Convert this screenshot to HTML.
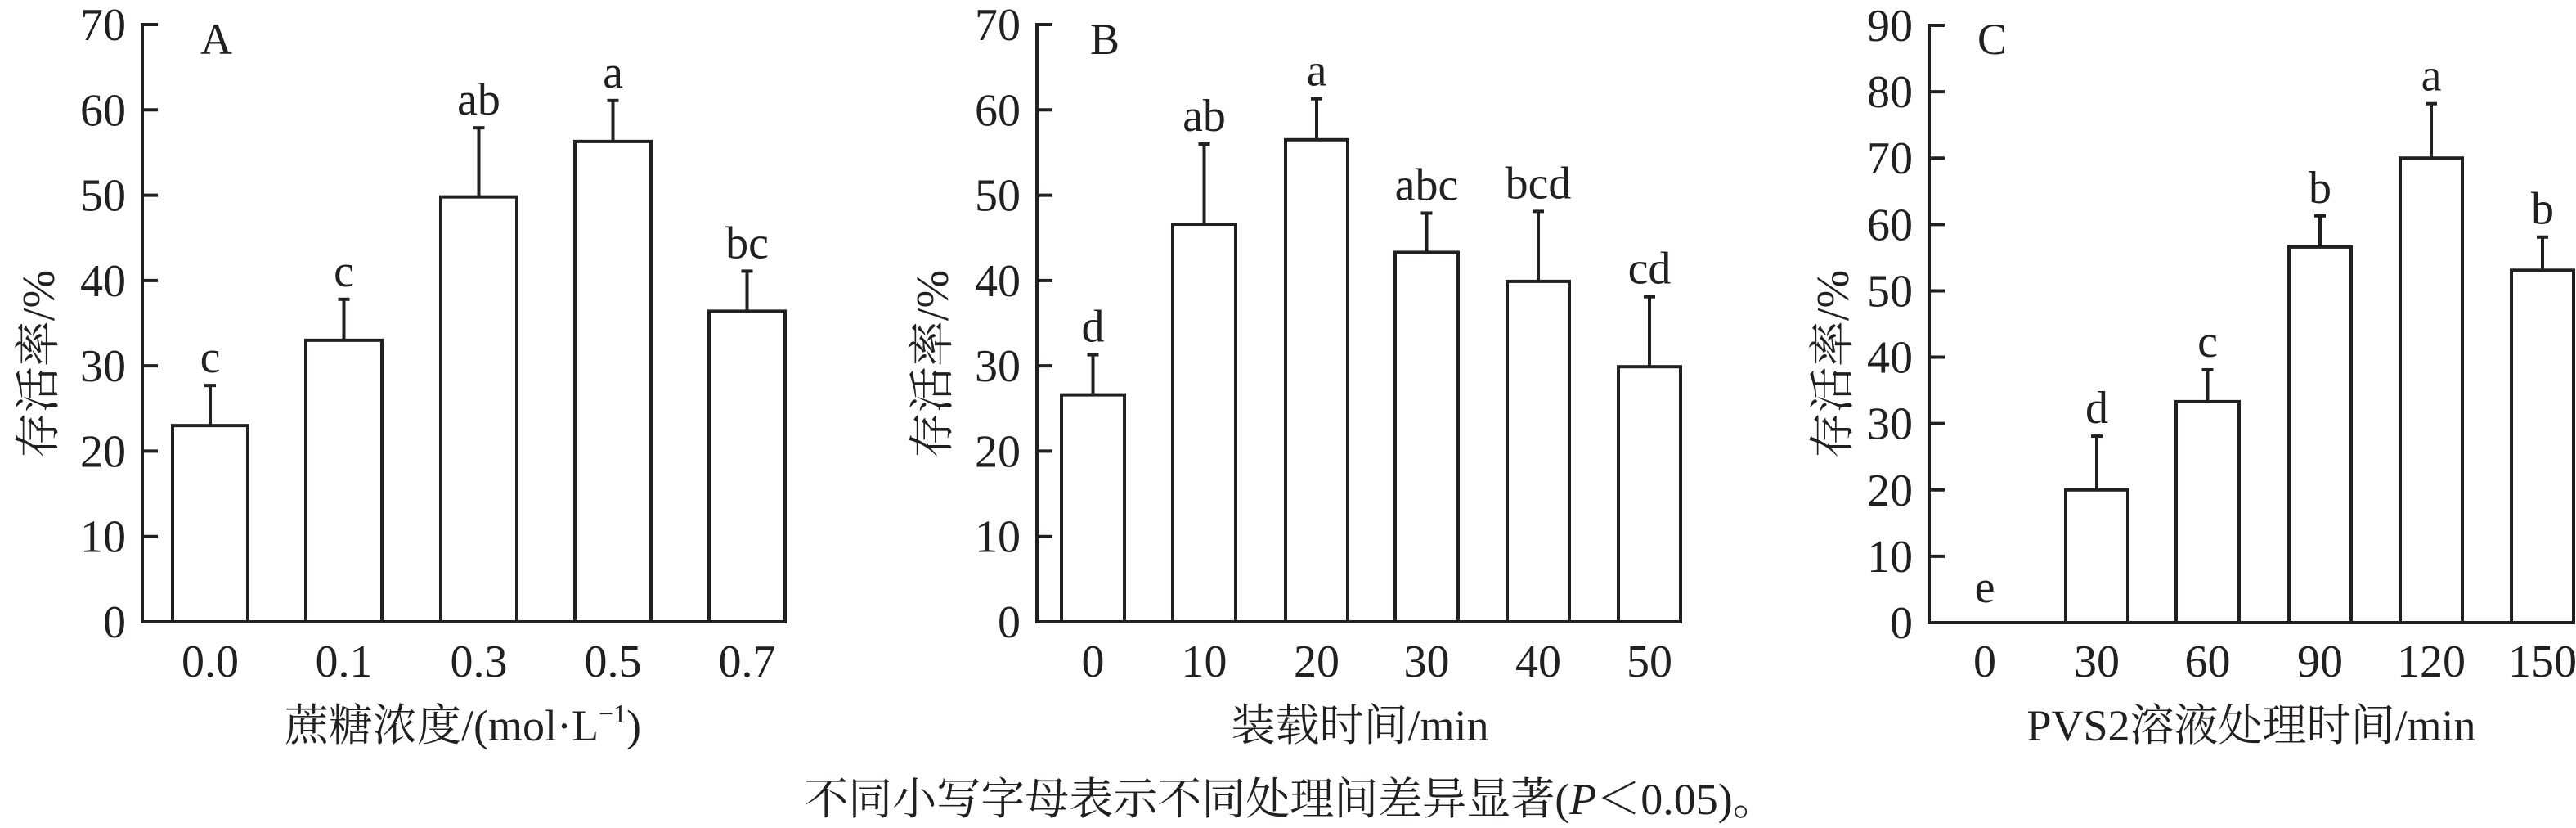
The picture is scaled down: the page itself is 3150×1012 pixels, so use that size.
<!DOCTYPE html>
<html><head><meta charset="utf-8"><style>
html,body{margin:0;padding:0;background:#fff;}
svg{display:block;}
text{font-family:"Liberation Serif","Noto Serif CJK SC","Noto Sans CJK SC",serif;fill:#231f20;}
</style></head><body>
<svg id="s" width="3150" height="1012" viewBox="0 0 3150 1012" xmlns="http://www.w3.org/2000/svg"></svg>
<script>
const s=document.getElementById('s');let h='';
const panels=[
 {ax:174,xend:962,top:30,zero:760,max:70,step:10,label:'A',lx:245,title:'蔗糖浓度/(mol·L<tspan font-size="32" dy="-22">−1</tspan><tspan dy="22">)</tspan>',tx:566,ytx:47,
  bars:[[211,303,23,27.7,'c','0.0'],[374,467,33,37.8,'c','0.1'],[539,632,49.8,57.9,'ab','0.3'],[703,796,56.3,61.1,'a','0.5'],[867,960,36.4,41.1,'bc','0.7']]},
 {ax:1268,xend:2057,top:30,zero:760,max:70,step:10,label:'B',lx:1333,title:'装载时间/min',tx:1663,ytx:1140,
  bars:[[1298,1375,26.6,31.3,'d','0'],[1434,1511,46.6,56,'ab','10'],[1572,1648,56.5,61.3,'a','20'],[1706,1783,43.3,47.9,'abc','30'],[1843,1919,39.9,48.1,'bcd','40'],[1979,2055,29.9,38.1,'cd','50']]},
 {ax:2359,xend:3148,top:31,zero:761,max:90,step:10,label:'C',lx:2418,title:'PVS2溶液处理时间/min',tx:2753,ytx:2241,
  bars:[[2389,2465,0,0,'e','0'],[2526,2602,20,28.1,'d','30'],[2661,2738,33.3,38.1,'c','60'],[2799,2875,56.6,61.3,'b','90'],[2935,3011,70,78.2,'a','120'],[3071,3147,53.1,58.1,'b','150']]}
];
for(const p of panels){
 const Y=v=>p.zero-(p.zero-p.top)*v/p.max;
 h+=`<g stroke="#231f20" stroke-width="4" fill="none">`;
 h+=`<line x1="${p.ax}" y1="${p.top-2}" x2="${p.ax}" y2="${p.zero+2}"/><line x1="${p.ax-2}" y1="${p.zero}" x2="${p.xend}" y2="${p.zero}"/>`;
 for(let v=0;v<=p.max;v+=p.step){h+=`<line x1="${p.ax}" y1="${Y(v)}" x2="${p.ax+19}" y2="${Y(v)}"/>`;}
 for(const b of p.bars){
  if(b[2]>0){const cx=(b[0]+b[1])/2;
   h+=`<line x1="${cx}" y1="${Y(b[2])}" x2="${cx}" y2="${Y(b[3])}"/><line x1="${cx-7}" y1="${Y(b[3])}" x2="${cx+7}" y2="${Y(b[3])}"/>`;
   h+=`<rect x="${b[0]}" y="${Y(b[2])}" width="${b[1]-b[0]}" height="${p.zero-Y(b[2])}" fill="#fff"/>`;}
 }
 h+=`</g>`;
 for(let v=0;v<=p.max;v+=p.step){h+=`<text x="${p.ax-20}" y="${Y(v)+19}" font-size="56" text-anchor="end">${v}</text>`;}
 for(const b of p.bars){const cx=(b[0]+b[1])/2;
  const ly=b[2]>0?Y(b[3])-16:Y(0)-25;
  h+=`<text x="${cx}" y="${ly}" font-size="56" text-anchor="middle">${b[4]}</text>`;
  h+=`<text x="${cx}" y="827" font-size="56" text-anchor="middle">${b[5]}</text>`;}
 h+=`<text x="${p.lx}" y="66" font-size="54">${p.label}</text>`;
 h+=`<text x="${p.tx}" y="905" font-size="54" text-anchor="middle">${p.title}</text>`;
 h+=`<text transform="translate(${p.ytx+19},445) rotate(-90)" font-size="56" text-anchor="middle">存活率/%</text>`;
}
h+=`<text x="1578" y="995" font-size="54" text-anchor="middle">不同小写字母表示不同处理间差异显著(<tspan font-style="italic">P</tspan>＜0.05)。</text>`;
s.innerHTML=h;
</script>
</body></html>
